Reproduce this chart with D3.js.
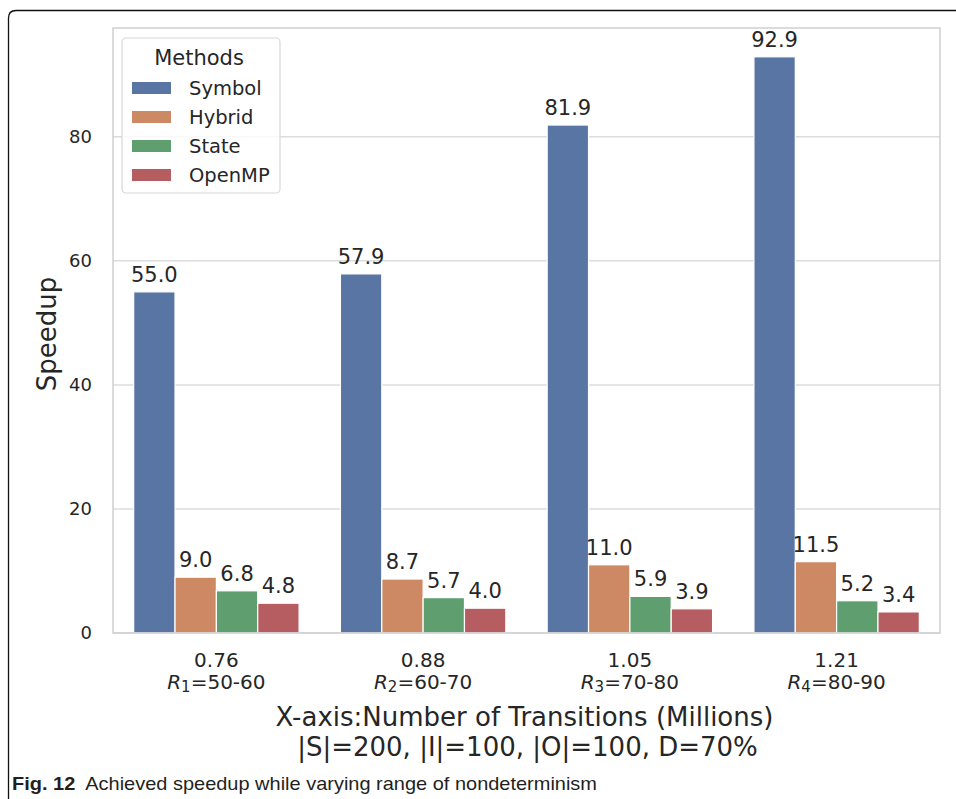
<!DOCTYPE html>
<html lang="en">
<head>
<meta charset="utf-8">
<title>Speedup</title>
<script src="https://cdn.jsdelivr.net/npm/d3@7"></script>
<style>
  body { margin: 0; background: #fff; }
  text { font-family: "DejaVu Sans", sans-serif; fill: #262626; }
  .cap { font-family: "Liberation Sans", sans-serif; fill: #231f20; }
</style>
</head>
<body>
<div class="chart"></div>
<script>
var categories = ["0.76", "0.88", "1.05", "1.21"];
var rangeIdx = ["1", "2", "3", "4"];
var rangeLabels = ["50-60", "60-70", "70-80", "80-90"];
var methods = ["Symbol", "Hybrid", "State", "OpenMP"];
var symbolVals = [55.0, 57.9, 81.9, 92.9];
var hybridVals = [9.0, 8.7, 11.0, 11.5];
var stateVals = [6.8, 5.7, 5.9, 5.2];
var openmpVals = [4.8, 4.0, 3.9, 3.4];
var yTicks = [0, 20, 40, 60, 80];

var seriesVals = [symbolVals, hybridVals, stateVals, openmpVals];
var colors = ["#5975a4", "#cc8963", "#5f9e6e", "#b55d60"];

var w = 956, h = 799;
var chartL = 113, chartR = 940, chartT = 28, chartB = 633;

var svg = d3.select("div.chart").append("svg")
  .attr("width", w).attr("height", h);

// outer figure frame
svg.append("path")
  .attr("d", "M8.5,800 L8.5,18 Q8.5,10.5 16,10.5 L960,10.5")
  .attr("fill", "none").attr("stroke", "#111").attr("stroke-width", 1.3);

var x0 = d3.scaleBand().domain(categories).range([chartL, chartR]).padding(0);
var bw = x0.bandwidth();
var x1 = d3.scaleBand().domain(methods).range([0.1 * bw, 0.9 * bw]).padding(0);
var y = d3.scaleLinear().domain([0, 92.9 * 1.05]).range([chartB, chartT]);

// gridlines
svg.append("g")
  .selectAll("line").data(yTicks).enter().append("line")
  .attr("x1", chartL).attr("x2", chartR)
  .attr("y1", d => y(d)).attr("y2", d => y(d))
  .attr("stroke", "#dcdcdc").attr("stroke-width", 1.5);

// y axis labels
var yAxis = d3.axisLeft(y).tickValues(yTicks).tickSize(0).tickPadding(21);
var gy = svg.append("g").attr("transform", "translate(" + chartL + ",0)").call(yAxis);
gy.select(".domain").remove();
gy.selectAll("text").style("font-size", "18px").attr("fill", "#262626")
  .style("font-family", "DejaVu Sans, sans-serif");

// bars
var rows = [];
categories.forEach(function(c, i) {
  methods.forEach(function(m, j) {
    rows.push({ cat: c, method: m, value: seriesVals[j][i], color: colors[j] });
  });
});

var bars = svg.append("g");
bars.selectAll("rect").data(rows).enter().append("rect")
  .attr("x", d => x0(d.cat) + x1(d.method))
  .attr("y", d => y(d.value))
  .attr("width", x1.bandwidth())
  .attr("height", d => y(0) - y(d.value))
  .attr("fill", d => d.color)
  .attr("stroke", "#fff").attr("stroke-width", 1.2);

bars.selectAll("text").data(rows).enter().append("text")
  .attr("x", d => x0(d.cat) + x1(d.method) + x1.bandwidth() / 2)
  .attr("y", d => y(d.value) - 10)
  .attr("text-anchor", "middle")
  .style("font-size", "21px")
  .text(d => d.value.toFixed(1));

// axes frame
svg.append("rect")
  .attr("x", chartL).attr("y", chartT)
  .attr("width", chartR - chartL).attr("height", chartB - chartT)
  .attr("fill", "none").attr("stroke", "#cfcfcf").attr("stroke-width", 1.5);

// x tick labels
var xl = svg.append("g");
categories.forEach(function(c, i) {
  var cx = x0(c) + bw / 2;
  xl.append("text").attr("x", cx).attr("y", 667)
    .attr("text-anchor", "middle").style("font-size", "20px").text(c);
  var t = xl.append("text").attr("x", cx).attr("y", 689)
    .attr("text-anchor", "middle").style("font-size", "20px");
  t.append("tspan").style("font-style", "italic").text("R");
  t.append("tspan").style("font-size", "15px").attr("dy", 3).text(rangeIdx[i]);
  t.append("tspan").attr("dy", -3).text("=" + rangeLabels[i]);
});

// axis titles
var midX = (chartL + chartR) / 2 - 2;
svg.append("text").attr("x", midX).attr("y", 726)
  .attr("text-anchor", "middle").style("font-size", "26px")
  .text("X-axis:Number of Transitions (Millions)");
svg.append("text").attr("x", midX + 3).attr("y", 756)
  .attr("text-anchor", "middle").style("font-size", "26px")
  .text("|S|=200, |I|=100, |O|=100, D=70%");

svg.append("text")
  .attr("transform", "translate(56," + 334 + ") rotate(-90)")
  .attr("text-anchor", "middle").style("font-size", "26px")
  .text("Speedup");

// legend
var lg = svg.append("g").attr("transform", "translate(122,38)");
lg.append("rect").attr("width", 158).attr("height", 155).attr("rx", 4)
  .attr("fill", "#fff").attr("fill-opacity", 0.8)
  .attr("stroke", "#d8d8d8").attr("stroke-width", 1.2);
lg.append("text").attr("x", 77).attr("y", 27).attr("text-anchor", "middle")
  .style("font-size", "21px").text("Methods");
var items = lg.selectAll("g.item").data(methods).enter().append("g")
  .attr("class", "item")
  .attr("transform", (d, i) => "translate(0," + (50 + i * 29) + ")");
items.append("rect").attr("x", 10).attr("y", -6).attr("width", 39).attr("height", 12)
  .attr("fill", (d, i) => colors[i]);
items.append("text").attr("x", 67).attr("y", 7)
  .style("font-size", "19.5px").text(d => d);

// caption
var cap = svg.append("text").attr("class", "cap").attr("x", 12).attr("y", 790)
  .style("font-size", "19px")
  .attr("textLength", 585).attr("lengthAdjust", "spacingAndGlyphs");
cap.append("tspan").style("font-weight", "bold").text("Fig. 12");
cap.append("tspan").text("\u00a0 Achieved speedup while varying range of nondeterminism");
</script>
</body>
</html>
